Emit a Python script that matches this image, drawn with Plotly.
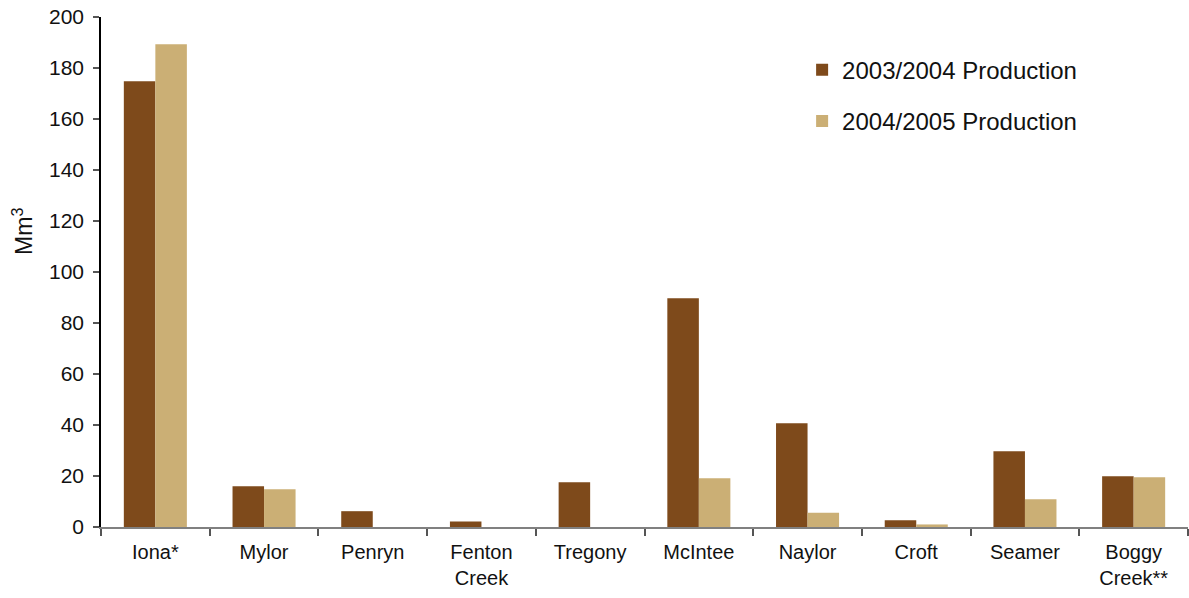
import plotly.graph_objects as go

categories = ["Iona*", "Mylor", "Penryn", "Fenton<br>Creek", "Tregony", "McIntee", "Naylor", "Croft", "Seamer", "Boggy<br>Creek**"]
prod_2003_2004 = [174.8, 16.0, 6.2, 2.2, 17.5, 89.7, 40.7, 2.6, 29.7, 19.9]
prod_2004_2005 = [189.3, 14.8, 0, 0, 0, 19.1, 5.6, 1.0, 10.9, 19.5]
series_names = ["2003/2004 Production", "2004/2005 Production"]
colors = ["#7E4A1B", "#CBAF75"]

fig = go.Figure()
for name, vals, col, grp in zip(series_names, [prod_2003_2004, prod_2004_2005], colors, ["a", "b"]):
    fig.add_trace(go.Bar(x=categories, y=vals, name=name, marker_color=col,
                         marker_line_width=0, legendgroup=grp))

fig.update_layout(
    width=1189, height=598,
    margin=dict(l=101, r=1, t=17, b=71),
    paper_bgcolor="white", plot_bgcolor="white",
    barmode="group", bargap=0.42, bargroupgap=0,
    font=dict(family="Liberation Sans, Arial, sans-serif", size=20, color="#111111"),
    showlegend=True,
    legend=dict(x=0.645, y=0.94, xanchor="left", yanchor="top",
                font=dict(size=24), bgcolor="rgba(0,0,0,0)",
                traceorder="grouped", tracegroupgap=17, itemwidth=30),
    annotations=[dict(text="Mm<sup>3</sup>", textangle=-90, xref="paper", yref="paper",
                      x=-0.072, y=0.58, xanchor="center", yanchor="middle",
                      showarrow=False, font=dict(size=23))],
)
fig.update_xaxes(
    showline=True, linecolor="#808080", linewidth=2,
    ticks="outside", tickson="boundaries", ticklen=7, tickcolor="#555555", tickwidth=2,
    showgrid=False, tickfont=dict(size=20), ticklabelstandoff=6,
)
fig.update_yaxes(
    range=[0, 200], dtick=20, showline=True, linecolor="black", linewidth=1.5,
    ticks="outside", ticklen=6, tickcolor="#555555", tickwidth=2,
    showgrid=False, zeroline=False, tickfont=dict(size=21), ticklabelstandoff=5,
)
fig.write_html("out.html")
